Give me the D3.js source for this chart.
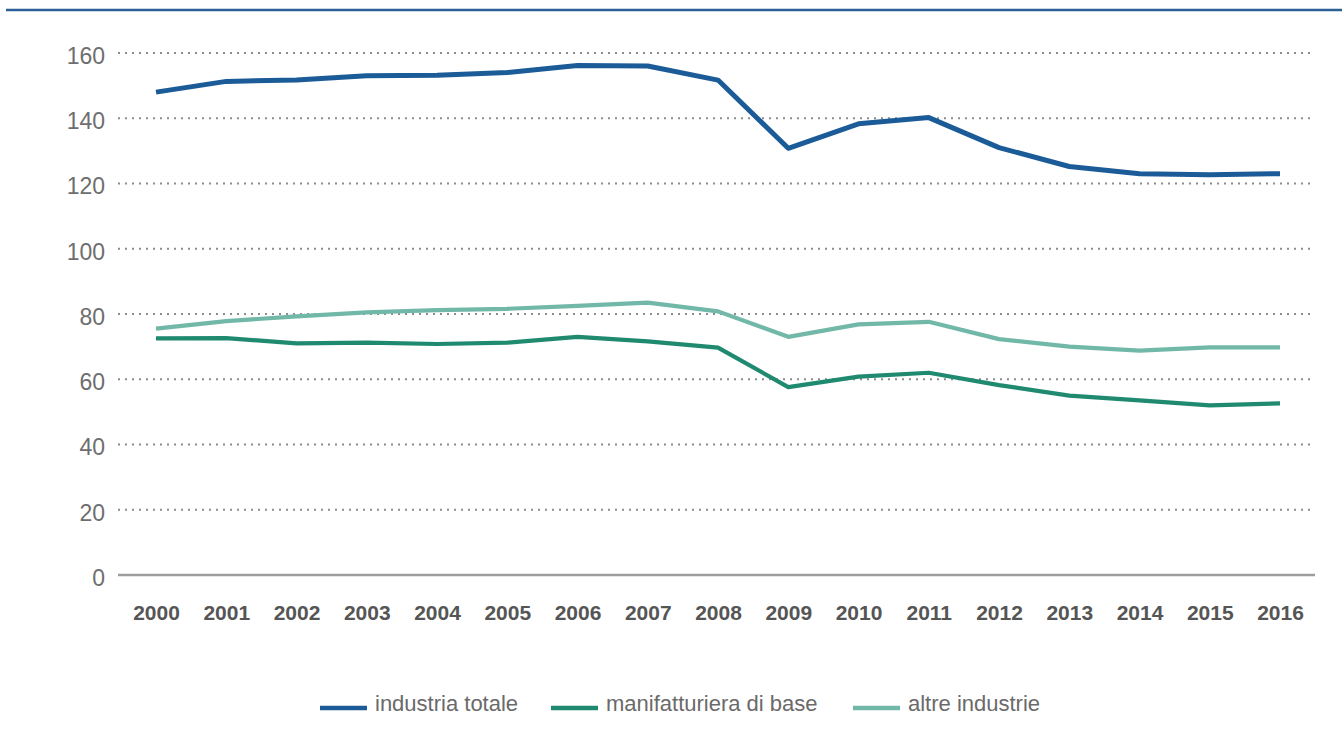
<!DOCTYPE html>
<html>
<head>
	<meta charset="utf-8">
	<title>Industria</title>
	<style type="text/css">
		body {
			margin: 0;
			background: #fff;
			font-family: "Liberation Sans", Arial, sans-serif;
		}

		.grid line {
			stroke: #8c8c8c;
			stroke-width: 2;
			stroke-dasharray: 2, 5;
		}

		.y.axis text {
			fill: #6e6e6e;
			font-size: 23px;
		}

		.x.axis text {
			fill: #555;
			font-size: 21px;
			font-weight: bold;
		}

		.legend text {
			fill: #6a6a6a;
			font-size: 22px;
		}

		.serie {
			fill: none;
			stroke-linejoin: round;
		}
	</style>
	<script src="https://d3js.org/d3.v7.min.js"></script>
</head>
<body>
<script type="text/javascript">
	var years = ["2000", "2001", "2002", "2003", "2004", "2005", "2006", "2007", "2008",
		"2009", "2010", "2011", "2012", "2013", "2014", "2015", "2016"];

	var industriaTotale = [148, 151.3, 151.7, 153, 153.2, 154, 156.2, 156, 151.7,
		130.8, 138.3, 140.2, 131, 125.2, 123, 122.7, 123];
	var manifatturiera = [72.5, 72.6, 71, 71.2, 70.8, 71.2, 73, 71.6, 69.7,
		57.6, 60.8, 62, 58.2, 55, 53.5, 52, 52.6];
	var altreIndustrie = [75.5, 77.8, 79.3, 80.5, 81.2, 81.6, 82.5, 83.5, 80.8,
		73, 76.8, 77.6, 72.3, 70, 68.8, 69.8, 69.8];

	var yTicks = [0, 20, 40, 60, 80, 100, 120, 140, 160];

	var seriesNames = ["industria totale", "manifatturiera di base", "altre industrie"];
	var seriesColors = ["#1b5b97", "#1f8a6f", "#72b8a9"];
	var seriesValues = [industriaTotale, manifatturiera, altreIndustrie];

	var svg = d3.select("body").append("svg")
		.attr("width", 1342)
		.attr("height", 733);

	// thin rule at the very top
	svg.append("line")
		.attr("x1", 6).attr("x2", 1342)
		.attr("y1", 10).attr("y2", 10)
		.attr("stroke", "#2b5f95")
		.attr("stroke-width", 2.5);

	var x = d3.scalePoint().domain(years).range([156, 1280]);
	var y = d3.scaleLinear().domain([0, 160]).range([575, 53]);

	var gridLeft = 118, gridRight = 1315;

	svg.append("g")
		.attr("class", "grid")
		.selectAll("line")
		.data(yTicks.filter(function(d) { return d > 0; }))
		.enter().append("line")
			.attr("x1", gridLeft)
			.attr("x2", gridRight)
			.attr("y1", function(d) { return y(d); })
			.attr("y2", function(d) { return y(d); });

	svg.append("line")
		.attr("x1", gridLeft).attr("x2", gridRight)
		.attr("y1", y(0)).attr("y2", y(0))
		.attr("stroke", "#9d9d9d")
		.attr("stroke-width", 2.5);

	var yAxis = svg.append("g")
		.attr("class", "y axis")
		.attr("transform", "translate(105,3)")
		.call(d3.axisLeft(y).tickValues(yTicks).tickSize(0).tickPadding(0));
	yAxis.select(".domain").remove();

	var xAxis = svg.append("g")
		.attr("class", "x axis")
		.attr("transform", "translate(0,600)")
		.call(d3.axisBottom(x).tickSize(0).tickPadding(5));
	xAxis.select(".domain").remove();

	var line = d3.line()
		.x(function(d, i) { return x(years[i]); })
		.y(function(d) { return y(d); });

	// draw lighter series first so the blue stays on top
	[2, 1, 0].forEach(function(k) {
		svg.append("path")
			.datum(seriesValues[k])
			.attr("class", "serie")
			.attr("stroke", seriesColors[k])
			.attr("stroke-width", k == 0 ? 5 : 4.2)
			.attr("d", line);
	});

	var legendX = [320, 551, 853];
	var legend = svg.append("g")
		.attr("class", "legend")
		.selectAll("g")
		.data(seriesNames)
		.enter().append("g")
			.attr("transform", function(d, i) { return "translate(" + legendX[i] + ",708)"; });

	legend.append("line")
		.attr("x1", 0).attr("x2", 47)
		.attr("y1", 0).attr("y2", 0)
		.attr("stroke", function(d, i) { return seriesColors[i]; })
		.attr("stroke-width", 4.5);

	legend.append("text")
		.attr("x", 55)
		.attr("y", 3)
		.text(function(d) { return d; });
</script>
</body>
</html>
